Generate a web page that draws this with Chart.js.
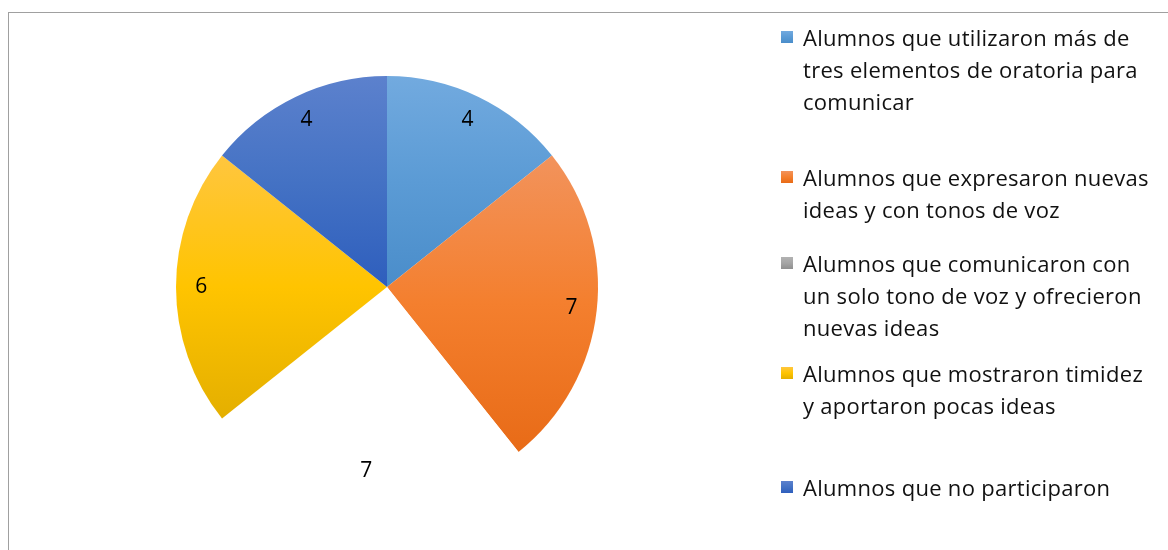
<!DOCTYPE html>
<html>
<head>
<meta charset="utf-8">
<script src="https://cdn.jsdelivr.net/npm/chart.js@4"></script>
<style>
  body { margin: 0; background: #fff; }
  #wrap { position: relative; width: 1168px; height: 550px; overflow: hidden; }
  #frame { position: absolute; left: 8px; top: 12px; width: 2000px; height: 2000px;
           border-left: 1px solid #a0a0a0; border-top: 1px solid #a0a0a0; }
  #chart { position: absolute; left: 0; top: 0; }
  .item { position: absolute; left: 781px; width: 387px; }
  .box { position: absolute; left: 0; top: 10px; width: 12px; height: 12px; }
  .txt { position: absolute; left: 22px; top: 0; font-family: "Open Sans", sans-serif;
         font-size: 22px; line-height: 32px; color: #111; letter-spacing: 0.3px; white-space: nowrap; }
</style>
</head>
<body>
<div id="wrap">
  <div id="frame"></div>
  <canvas id="chart" width="1168" height="550"></canvas>
  <div id="legend"></div>
</div>
<script>
// datos del grafico
var labels = [
    "Alumnos que utilizaron más de tres elementos de oratoria para comunicar",
    "Alumnos que expresaron nuevas ideas y con tonos de voz",
    "Alumnos que comunicaron con un solo tono de voz y ofrecieron nuevas ideas",
    "Alumnos que mostraron timidez y aportaron pocas ideas",
    "Alumnos que no participaron"
];
var values = [4, 7, 7, 6, 4];
// lineas del texto de la leyenda, como en el original
var legendLines = [
    ["Alumnos que utilizaron más de", "tres elementos de oratoria para", "comunicar"],
    ["Alumnos que expresaron nuevas", "ideas y con tonos de voz"],
    ["Alumnos que comunicaron con", "un solo tono de voz y ofrecieron", "nuevas ideas"],
    ["Alumnos que mostraron timidez", "y aportaron pocas ideas"],
    ["Alumnos que no participaron"]
];
// colores: arriba / centro / abajo del degradado
var colorTop = ["#72aadf", "#f2935c", "#b2b2b2", "#ffc63f", "#5c81cd"];
var colorMid = ["#5b9bd5", "#f47f2e", "#a5a5a5", "#ffc400", "#4472c4"];
var colorBottom = ["#4a8dca", "#e86b17", "#8f8f8f", "#e4af00", "#2e5ebd"];
var hidden = [false, false, true, false, false]; // la porcion gris no se ve en el original
var legendTop = [21, 161, 247, 357, 471];

// leyenda en html (el texto va en varias lineas)
var legend = document.getElementById("legend");
for (let i = 0; i < labels.length; i++) {
    let item = document.createElement("div");
    item.className = "item";
    item.style.top = legendTop[i] + "px";
    item.title = labels[i];
    let box = document.createElement("div");
    box.className = "box";
    box.style.background = "linear-gradient(" + colorTop[i] + "," + colorMid[i] + "," + colorBottom[i] + ")";
    let txt = document.createElement("div");
    txt.className = "txt";
    txt.innerHTML = legendLines[i].join("<br>");
    item.appendChild(box);
    item.appendChild(txt);
    legend.appendChild(item);
}

// degradado vertical ajustado a cada porcion
function sliceFill(context) {
    let i = context.dataIndex;
    if (hidden[i]) return "#ffffff";
    let chart = context.chart;
    let area = chart.chartArea;
    if (!area) return colorMid[i];
    let cx = (area.left + area.right) / 2;
    let cy = (area.top + area.bottom) / 2;
    let r = Math.min(area.right - area.left, area.bottom - area.top) / 2;
    let total = values.reduce((a, b) => a + b, 0);
    let before = 0;
    for (let k = 0; k < i; k++) before += values[k];
    let a0 = -Math.PI / 2 + before / total * 2 * Math.PI;
    let a1 = a0 + values[i] / total * 2 * Math.PI;
    let ys = [cy, cy + r * Math.sin(a0), cy + r * Math.sin(a1)];
    for (let t = -Math.PI / 2; t <= 3 * Math.PI / 2; t += Math.PI) {
        if (t >= a0 && t <= a1) ys.push(cy + r * Math.sin(t));
    }
    let top = Math.min.apply(null, ys);
    let bottom = Math.max.apply(null, ys);
    let g = chart.ctx.createLinearGradient(0, top, 0, bottom);
    g.addColorStop(0, colorTop[i]);
    g.addColorStop(0.5, colorMid[i]);
    g.addColorStop(1, colorBottom[i]);
    return g;
}

// etiquetas con el valor dentro de cada porcion
var valueLabels = {
    id: "valueLabels",
    afterDatasetsDraw(chart) {
        let ctx = chart.ctx;
        let meta = chart.getDatasetMeta(0);
        ctx.save();
        ctx.font = "21px 'Open Sans', sans-serif";
        ctx.fillStyle = "#000";
        ctx.textAlign = "center";
        ctx.textBaseline = "middle";
        meta.data.forEach(function (arc, i) {
            let p = arc.getProps(["x", "y", "startAngle", "endAngle", "outerRadius"], true);
            let mid = (p.startAngle + p.endAngle) / 2;
            let rr = p.outerRadius * 0.88;
            ctx.fillText(String(values[i]), p.x + rr * Math.cos(mid), p.y + rr * Math.sin(mid));
        });
        ctx.restore();
    }
};

var chart = new Chart(document.getElementById("chart"), {
    type: "pie",
    data: {
        labels: labels,
        datasets: [{
            data: values,
            backgroundColor: sliceFill,
            borderWidth: 0
        }]
    },
    options: {
        responsive: false,
        animation: false,
        layout: { padding: { left: 176, top: 76, right: 570, bottom: 52 } },
        plugins: {
            legend: { display: false },
            tooltip: { enabled: false }
        }
    },
    plugins: [valueLabels]
});
</script>
</body>
</html>
